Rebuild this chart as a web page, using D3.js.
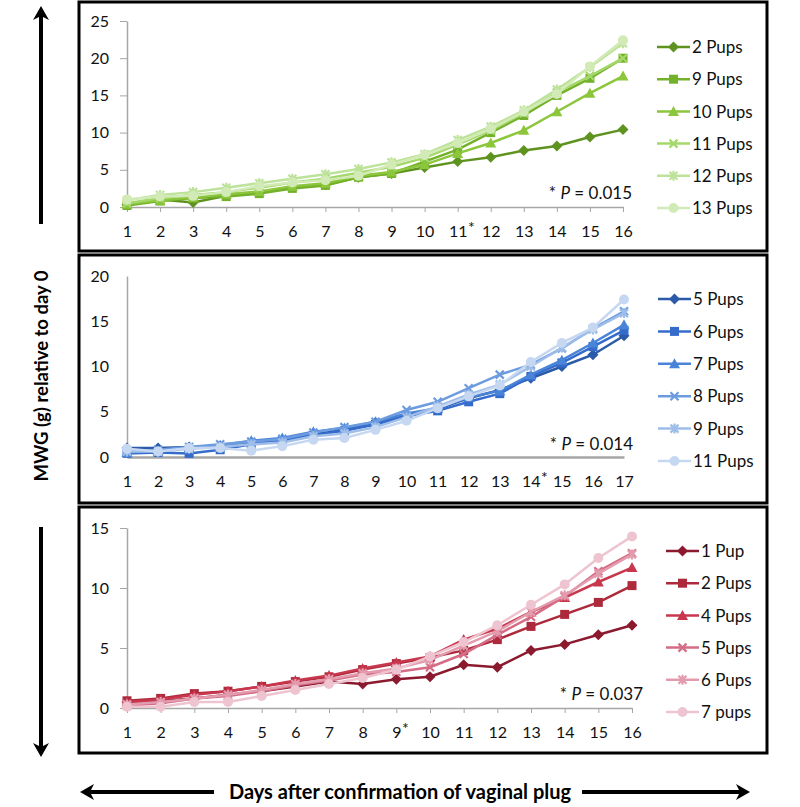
<!DOCTYPE html>
<html>
<head>
<meta charset="utf-8">
<script src="https://cdn.jsdelivr.net/npm/d3@7"></script>
<style>
  body { margin: 0; background: #fff; }
  svg { display: block; font-family: Lato, "Open Sans", sans-serif; }
</style>
</head>
<body>
<svg width="800" height="807"></svg>
<script>
// ---- data ----
const topDays = [1, 2, 3, 4, 5, 6, 7, 8, 9, 10, 11, 12, 13, 14, 15, 16];
const topNames = ["2 Pups", "9 Pups", "10 Pups", "11 Pups", "12 Pups", "13 Pups"];
const topColors = ["#5f9320", "#74b12a", "#8cc63c", "#a5d86a", "#bde29a", "#d2ebb6"];
const top2 = [0.3, 1.0, 0.6, 1.5, 2.0, 2.7, 3.0, 4.0, 4.5, 5.3, 6.1, 6.7, 7.6, 8.2, 9.4, 10.4];
const top9 = [0.2, 0.8, 1.2, 1.4, 1.8, 2.5, 2.9, 4.0, 4.5, 6.1, 7.7, 10.0, 12.3, 15.0, 17.3, 20.0];
const top10 = [0.4, 0.9, 1.3, 1.7, 2.1, 2.8, 3.2, 4.2, 4.7, 5.7, 7.2, 8.6, 10.3, 12.8, 15.3, 17.6];
const top11 = [0.5, 1.2, 1.6, 2.0, 2.6, 3.3, 3.8, 4.6, 5.4, 6.6, 8.4, 10.3, 12.6, 15.4, 17.6, 20.0];
const top12 = [0.9, 1.6, 2.0, 2.6, 3.2, 3.8, 4.4, 5.1, 6.0, 7.1, 9.0, 10.8, 13.0, 15.8, 18.8, 22.0];
const top13 = [1.0, 1.4, 1.5, 2.0, 2.8, 3.3, 3.6, 4.2, 5.7, 7.0, 8.6, 10.5, 12.8, 15.2, 18.9, 22.4];

const midDays = [1, 2, 3, 4, 5, 6, 7, 8, 9, 10, 11, 12, 13, 14, 15, 16, 17];
const midNames = ["5 Pups", "6 Pups", "7 Pups", "8 Pups", "9 Pups", "11 Pups"];
const midColors = ["#2a5aa8", "#356ccc", "#4a84d8", "#6d9be0", "#9ebde9", "#c6d8f1"];
const mid5 = [1.0, 1.0, 1.1, 1.2, 1.5, 1.8, 2.5, 3.0, 3.8, 4.7, 5.3, 6.5, 7.4, 8.7, 10.0, 11.3, 13.4];
const mid6 = [0.4, 0.5, 0.4, 0.8, 1.4, 1.8, 2.4, 2.9, 3.6, 4.5, 5.1, 6.1, 7.0, 8.9, 10.4, 12.2, 14.0];
const mid7 = [0.5, 0.7, 1.0, 1.3, 1.8, 2.1, 2.8, 3.2, 3.9, 4.8, 5.4, 6.6, 7.3, 9.1, 10.7, 12.6, 14.6];
const mid8 = [0.6, 0.8, 1.1, 1.4, 1.7, 2.0, 2.7, 3.3, 3.9, 5.2, 6.1, 7.6, 9.1, 10.2, 12.0, 14.2, 16.1];
const mid9 = [0.6, 0.6, 0.9, 1.1, 1.4, 1.6, 2.3, 2.6, 3.3, 4.4, 5.6, 6.9, 8.0, 10.0, 12.1, 14.1, 15.9];
const mid11 = [0.9, 0.6, 1.0, 1.0, 0.7, 1.2, 1.9, 2.1, 3.0, 4.0, 5.4, 6.7, 7.9, 10.5, 12.6, 14.3, 17.4];

const botDays = [1, 2, 3, 4, 5, 6, 7, 8, 9, 10, 11, 12, 13, 14, 15, 16];
const botNames = ["1 Pup", "2 Pups", "4 Pups", "5 Pups", "6 Pups", "7 pups"];
const botColors = ["#8c1a2f", "#ad2a3c", "#c8374d", "#d56c85", "#e39bae", "#edc4d0"];
const bot1 = [0.5, 0.6, 0.8, 1.1, 1.4, 1.8, 2.2, 2.0, 2.4, 2.6, 3.6, 3.4, 4.8, 5.3, 6.1, 6.9];
const bot2 = [0.6, 0.8, 1.2, 1.4, 1.8, 2.2, 2.6, 3.2, 3.7, 4.2, 4.8, 5.7, 6.8, 7.8, 8.8, 10.2];
const bot4 = [0.5, 0.7, 1.1, 1.4, 1.8, 2.3, 2.7, 3.3, 3.8, 4.3, 5.7, 6.6, 8.0, 9.2, 10.5, 11.7];
const bot5 = [0.2, 0.4, 0.8, 1.0, 1.4, 1.9, 2.3, 2.8, 3.0, 3.4, 4.5, 6.1, 7.6, 9.3, 11.4, 12.9];
const bot6 = [0.3, 0.5, 0.8, 1.1, 1.5, 2.0, 2.4, 2.9, 3.3, 4.0, 5.2, 6.4, 8.0, 9.4, 11.2, 12.8];
const bot7 = [0.1, 0.1, 0.5, 0.5, 1.0, 1.5, 2.0, 2.5, 3.2, 4.3, 5.5, 6.9, 8.6, 10.3, 12.5, 14.3];

const topTicks = [0, 5, 10, 15, 20, 25];
const midTicks = [0, 5, 10, 15, 20];
const botTicks = [0, 5, 10, 15];

const markers = ["diamond", "square", "triangle", "x", "star", "circle"];

// ---- layout per panel ----
const panels = [
  { boxY: 2, boxH: 249, x1: 623, yBot: 207, yTop: 21, yTicks: topTicks, days: topDays,
    names: topNames, colors: topColors, values: [top2, top9, top10, top11, top12, top13],
    star: 11, p: "0.015", pX: 632, pY: 199, legX: 657, legY: 47, legStep: 32.2, ticks: true },
  { boxY: 255, boxH: 248, x1: 624, yBot: 457, yTop: 276, yTicks: midTicks, days: midDays,
    names: midNames, colors: midColors, values: [mid5, mid6, mid7, mid8, mid9, mid11],
    star: 14, p: "0.014", pX: 633, pY: 450, legX: 658, legY: 299, legStep: 32.4, ticks: false },
  { boxY: 507, boxH: 246, x1: 632, yBot: 708, yTop: 528, yTicks: botTicks, days: botDays,
    names: botNames, colors: botColors, values: [bot1, bot2, bot4, bot5, bot6, bot7],
    star: 9, p: "0.037", pX: 643, pY: 700, legX: 666, legY: 551, legStep: 32.2, ticks: true }
];

const svg = d3.select("svg");
const axisGray = "#a6a6a6";

function drawMarker(g, type, color, x, y) {
  if (type === "diamond") {
    g.append("path").attr("d", `M${x},${y - 5.5}L${x + 5.5},${y}L${x},${y + 5.5}L${x - 5.5},${y}Z`).attr("fill", color);
  } else if (type === "square") {
    g.append("rect").attr("x", x - 4.5).attr("y", y - 4.5).attr("width", 9).attr("height", 9).attr("fill", color);
  } else if (type === "triangle") {
    g.append("path").attr("d", `M${x},${y - 5.5}L${x + 5.5},${y + 4.5}L${x - 5.5},${y + 4.5}Z`).attr("fill", color);
  } else if (type === "x") {
    g.append("path").attr("d", `M${x - 4},${y - 4}L${x + 4},${y + 4}M${x - 4},${y + 4}L${x + 4},${y - 4}`)
      .attr("stroke", color).attr("stroke-width", 2.2);
  } else if (type === "star") {
    g.append("path").attr("d", `M${x - 4},${y - 4}L${x + 4},${y + 4}M${x - 4},${y + 4}L${x + 4},${y - 4}M${x},${y - 5}L${x},${y + 5}`)
      .attr("stroke", color).attr("stroke-width", 2.2);
  } else {
    g.append("circle").attr("cx", x).attr("cy", y).attr("r", 5).attr("fill", color);
  }
}

panels.forEach(pn => {
  // frame
  svg.append("rect")
    .attr("x", 79).attr("y", pn.boxY).attr("width", 688).attr("height", pn.boxH)
    .attr("fill", "none").attr("stroke", "#000").attr("stroke-width", 3);

  const x = d3.scaleLinear().domain([pn.days[0], pn.days[pn.days.length - 1]]).range([127, pn.x1]);
  const y = d3.scaleLinear().domain([0, pn.yTicks[pn.yTicks.length - 1]]).range([pn.yBot, pn.yTop]);

  // y axis
  const ya = svg.append("g").attr("transform", "translate(127,0)")
    .call(d3.axisLeft(y).tickValues(pn.yTicks).tickSize(pn.ticks ? 7 : 0).tickPadding(pn.ticks ? 11 : 18).tickSizeOuter(0));
  ya.select(".domain").attr("stroke", axisGray).attr("stroke-width", 1.5);
  ya.selectAll(".tick line").attr("stroke", axisGray);
  ya.selectAll("text").attr("font-size", 16).attr("fill", "#111").attr("font-family", "Lato");

  // x axis
  const tk = pn.ticks ? 5 : 0, pad = pn.ticks ? 14 : 19;
  const xa = svg.append("g").attr("transform", `translate(0,${pn.yBot})`)
    .call(d3.axisBottom(x).tickValues(pn.days).tickSize(tk).tickPadding(pad).tickSizeOuter(0));
  xa.select(".domain").attr("stroke", axisGray).attr("stroke-width", pn.ticks ? 1.5 : 2.5);
  xa.selectAll(".tick line").attr("stroke", axisGray);
  xa.selectAll("text").attr("font-size", 16).attr("fill", "#111").attr("font-family", "Lato");
  // asterisk next to the significant day
  xa.selectAll(".tick").filter(d => d === pn.star).each(function () {
    const t = d3.select(this).select("text");
    const w = t.node().getComputedTextLength();
    d3.select(this).append("text")
      .attr("x", w / 2 + 0.5).attr("y", tk + pad - 4).attr("dy", "0.71em")
      .attr("font-size", 16).attr("fill", "#111").attr("font-family", "Lato")
      .attr("text-anchor", "start").text("*");
  });

  // series
  const line = d3.line().x((d, i) => x(pn.days[i])).y(d => y(d));
  pn.values.forEach((vals, si) => {
    const g = svg.append("g");
    g.append("path").datum(vals).attr("d", line)
      .attr("fill", "none").attr("stroke", pn.colors[si]).attr("stroke-width", 2.5);
    vals.forEach((v, i) => drawMarker(g, markers[si], pn.colors[si], x(pn.days[i]), y(v)));
  });

  // p value note
  const pt = svg.append("text").attr("x", pn.pX).attr("y", pn.pY)
    .attr("text-anchor", "end").attr("font-size", 17).attr("fill", "#111");
  pt.append("tspan").text("* ");
  pt.append("tspan").attr("font-style", "italic").text("P");
  pt.append("tspan").text(" = " + pn.p);

  // legend
  pn.names.forEach((name, si) => {
    const ly = pn.legY + si * pn.legStep;
    const g = svg.append("g");
    g.append("line").attr("x1", pn.legX).attr("x2", pn.legX + 33).attr("y1", ly).attr("y2", ly)
      .attr("stroke", pn.colors[si]).attr("stroke-width", 2.5);
    drawMarker(g, markers[si], pn.colors[si], pn.legX + 16.5, ly);
    g.append("text").attr("x", pn.legX + 35).attr("y", ly).attr("dy", "0.36em")
      .attr("font-size", 17).attr("fill", "#111").text(name);
  });
});

// ---- outer arrows and titles ----
function arrowHead(tx, ty, dir) {
  // dir: "up", "down", "left", "right"
  const L = 14, W = 8, n = 4;
  let pts;
  if (dir === "up") pts = [[tx, ty], [tx + W, ty + L], [tx, ty + L - n], [tx - W, ty + L]];
  if (dir === "down") pts = [[tx, ty], [tx + W, ty - L], [tx, ty - L + n], [tx - W, ty - L]];
  if (dir === "left") pts = [[tx, ty], [tx + L, ty - W], [tx + L - n, ty], [tx + L, ty + W]];
  if (dir === "right") pts = [[tx, ty], [tx - L, ty - W], [tx - L + n, ty], [tx - L, ty + W]];
  svg.append("path").attr("d", "M" + pts.join("L") + "Z").attr("fill", "#000");
}

svg.append("line").attr("x1", 41).attr("x2", 41).attr("y1", 224).attr("y2", 14)
  .attr("stroke", "#000").attr("stroke-width", 4);
arrowHead(41, 6, "up");
svg.append("line").attr("x1", 41).attr("x2", 41).attr("y1", 527).attr("y2", 748)
  .attr("stroke", "#000").attr("stroke-width", 4);
arrowHead(41, 757, "down");

svg.append("text")
  .attr("transform", "translate(48,376) rotate(-90)")
  .attr("text-anchor", "middle").attr("font-size", 18.5).attr("font-weight", "bold")
  .attr("fill", "#000").text("MWG (g) relative to day 0");

svg.append("line").attr("x1", 88).attr("x2", 214).attr("y1", 792).attr("y2", 792)
  .attr("stroke", "#000").attr("stroke-width", 4);
arrowHead(80, 792, "left");
svg.append("line").attr("x1", 582).attr("x2", 742).attr("y1", 792).attr("y2", 792)
  .attr("stroke", "#000").attr("stroke-width", 4);
arrowHead(750, 792, "right");

svg.append("text")
  .attr("x", 400).attr("y", 792).attr("dy", "0.36em")
  .attr("text-anchor", "middle").attr("font-size", 20).attr("font-weight", "bold")
  .attr("fill", "#000").text("Days after confirmation of vaginal plug");
</script>
</body>
</html>
